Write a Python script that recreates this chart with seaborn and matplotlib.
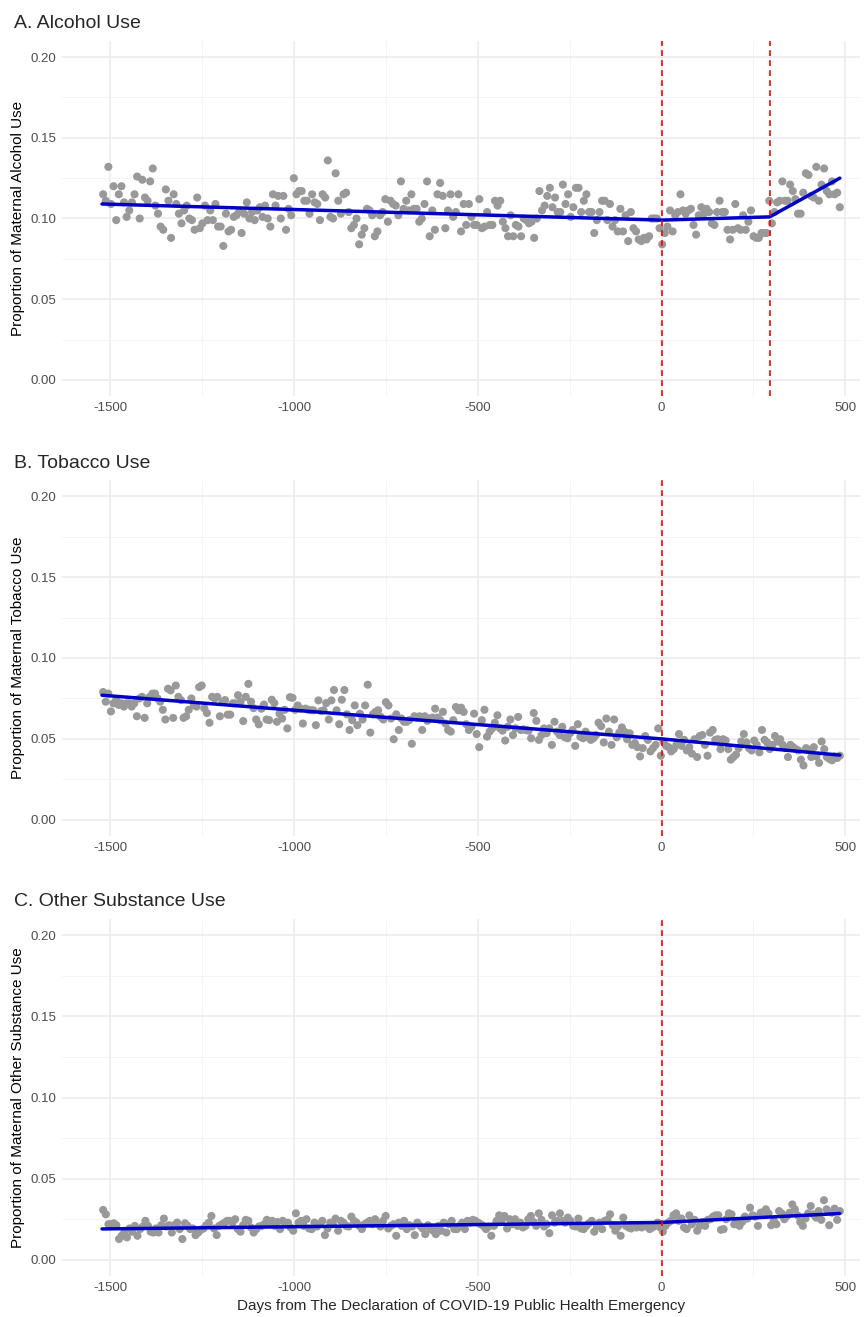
import matplotlib
matplotlib.use("Agg")
import matplotlib.pyplot as plt
import numpy as np
import pandas as pd
import seaborn as sns
from matplotlib.ticker import MultipleLocator

# Weekly proportions, first week about day -1520, last about day 485
alcohol = [
    0.115, 0.111, 0.132, 0.109, 0.120, 0.099, 0.115, 0.120, 0.110, 0.101, 0.105, 0.110, 0.115, 0.126, 0.100,
    0.124, 0.113, 0.111, 0.123, 0.131, 0.108, 0.103, 0.095, 0.093, 0.118, 0.111, 0.088, 0.115, 0.109, 0.103,
    0.097, 0.105, 0.108, 0.100, 0.099, 0.093, 0.113, 0.094, 0.097, 0.108, 0.099, 0.105, 0.099, 0.109, 0.095,
    0.095, 0.083, 0.103, 0.092, 0.093, 0.101, 0.102, 0.104, 0.091, 0.103, 0.110, 0.100, 0.104, 0.099, 0.105,
    0.107,
    0.101, 0.108, 0.100, 0.095, 0.115, 0.108, 0.114, 0.100, 0.114, 0.093, 0.106, 0.102, 0.125, 0.115, 0.117,
    0.117, 0.111, 0.111, 0.103, 0.115, 0.110, 0.109, 0.099, 0.115, 0.113, 0.136, 0.101, 0.100, 0.128, 0.111,
    0.103, 0.115, 0.116, 0.104, 0.094, 0.096, 0.100, 0.084, 0.090, 0.094, 0.106, 0.105, 0.102, 0.089, 0.092,
    0.102, 0.104, 0.112, 0.098, 0.111, 0.109, 0.108, 0.102, 0.123, 0.106, 0.111, 0.105, 0.115, 0.106, 0.106,
    0.098, 0.100, 0.109, 0.123, 0.089, 0.105, 0.093, 0.115, 0.122, 0.114, 0.094, 0.105, 0.115, 0.101,
    0.104, 0.115, 0.092, 0.109, 0.096, 0.109, 0.101, 0.096, 0.096, 0.112, 0.094, 0.095, 0.104, 0.096, 0.096,
    0.111, 0.108, 0.111, 0.098, 0.094, 0.089, 0.102, 0.089, 0.096, 0.095, 0.089, 0.100, 0.099, 0.097, 0.098,
    0.088, 0.100, 0.117, 0.105, 0.108, 0.114, 0.119, 0.107, 0.113, 0.104, 0.104, 0.121, 0.109, 0.115, 0.101,
    0.107, 0.119, 0.119, 0.104, 0.111, 0.115, 0.104, 0.104, 0.091, 0.099, 0.104, 0.111, 0.111, 0.099, 0.109,
    0.095, 0.099, 0.092, 0.106, 0.092, 0.102, 0.086, 0.104, 0.094, 0.092, 0.087, 0.086, 0.088, 0.087,
    0.089, 0.100, 0.100, 0.100, 0.094, 0.084, 0.091, 0.095, 0.105, 0.092, 0.102, 0.104, 0.115, 0.105, 0.103,
    0.105, 0.106, 0.096, 0.090, 0.102, 0.107, 0.103, 0.106, 0.104, 0.097, 0.096, 0.104, 0.111, 0.104, 0.104,
    0.093, 0.087, 0.093, 0.109, 0.094, 0.093, 0.102, 0.093, 0.098, 0.105, 0.089, 0.088, 0.088, 0.091, 0.091,
    0.091, 0.111, 0.097, 0.104, 0.110, 0.111, 0.123, 0.111, 0.111, 0.121, 0.117, 0.112, 0.103, 0.103, 0.116,
    0.128, 0.127, 0.114, 0.113, 0.132, 0.111, 0.121, 0.131, 0.117, 0.115, 0.123, 0.115, 0.116, 0.107,
]

tobacco = [
    0.079, 0.073, 0.078, 0.067, 0.072, 0.074, 0.071, 0.072, 0.070, 0.072, 0.072, 0.070, 0.072, 0.064, 0.075,
    0.076, 0.063, 0.072, 0.076, 0.078, 0.078, 0.075, 0.073, 0.068, 0.062, 0.081, 0.080, 0.063, 0.083, 0.076,
    0.074, 0.063, 0.064, 0.068, 0.075, 0.071, 0.070, 0.082, 0.083, 0.069, 0.066, 0.060, 0.076, 0.075, 0.076,
    0.064, 0.073, 0.074, 0.065, 0.065, 0.072, 0.072, 0.077, 0.073, 0.061, 0.076, 0.084, 0.073, 0.069, 0.062,
    0.059,
    0.0687, 0.0713, 0.062, 0.0616, 0.0742, 0.0721, 0.0606, 0.0656, 0.0626, 0.068, 0.0565, 0.0758, 0.0754, 0.068,
    0.0707, 0.0687, 0.0595, 0.0687, 0.068, 0.0677, 0.0677, 0.0585, 0.0738, 0.0672, 0.0677, 0.0721, 0.062, 0.0738,
    0.0802, 0.0677, 0.0591, 0.0742, 0.0802, 0.0652, 0.0555, 0.0616, 0.0707, 0.0585, 0.0656, 0.062, 0.0707, 0.0835,
    0.0539, 0.0652, 0.0667, 0.0677, 0.0636, 0.062, 0.0727, 0.0707, 0.0626, 0.0498, 0.0652, 0.0555, 0.0626, 0.0606,
    0.0606, 0.0616, 0.047, 0.064, 0.0632, 0.064, 0.0555, 0.064, 0.0612, 0.0626, 0.0632, 0.0687, 0.0632, 0.0616,
    0.0667, 0.0595, 0.0555,
    0.0545, 0.0616, 0.0697, 0.0677, 0.0693, 0.0667, 0.0591, 0.0555, 0.0575, 0.0656, 0.053, 0.0449, 0.0616, 0.068,
    0.0514, 0.0545, 0.0565, 0.06, 0.0646, 0.0565, 0.0551, 0.049, 0.0575, 0.062, 0.0524, 0.0565, 0.0636, 0.0555,
    0.0559, 0.0555, 0.0551, 0.0504, 0.066, 0.0612, 0.0494, 0.0524, 0.0565, 0.0535, 0.0565, 0.0463, 0.0606, 0.0545,
    0.0524, 0.0575, 0.051, 0.0504, 0.0535, 0.0555, 0.0457, 0.0591, 0.0514, 0.0504, 0.0545, 0.051, 0.0494, 0.0504,
    0.0524, 0.06, 0.0579, 0.0478, 0.0626, 0.0545, 0.0463, 0.062, 0.051, 0.0539, 0.0571, 0.0545, 0.0498, 0.0535,
    0.0463, 0.0474, 0.0449, 0.0392,
    0.0443, 0.0518, 0.0494, 0.0423, 0.0443, 0.0463, 0.0565, 0.0396, 0.0484, 0.0457, 0.0449, 0.0423, 0.0437, 0.0463,
    0.053, 0.0457, 0.0494, 0.0429, 0.0449, 0.0409, 0.0498, 0.0388, 0.0518, 0.0524, 0.0463, 0.0396, 0.0539, 0.0555,
    0.0494, 0.0498, 0.0437, 0.0498, 0.049, 0.0437, 0.0372, 0.0388, 0.0403, 0.0443, 0.0484, 0.053, 0.0478, 0.0443,
    0.0429, 0.049, 0.0463, 0.0417, 0.0555, 0.0494, 0.0478, 0.0437, 0.0463, 0.0518, 0.0484, 0.0498, 0.0463, 0.0443,
    0.0388, 0.0463, 0.0449, 0.0437, 0.0429, 0.0372, 0.0336, 0.0443, 0.0433, 0.0388, 0.0449, 0.0392, 0.0352, 0.0484,
    0.0437, 0.0388, 0.0376, 0.0368, 0.0392, 0.0382, 0.0396,
]

other = [
    0.0307, 0.028, 0.0219, 0.0219, 0.0225, 0.0213, 0.0128, 0.0148, 0.0168, 0.0138, 0.0193, 0.0173, 0.0209, 0.0148,
    0.0189, 0.0205, 0.024, 0.0209, 0.0173, 0.0168, 0.0193, 0.0168, 0.0213, 0.0254, 0.0205, 0.0213, 0.0168, 0.0213,
    0.0229, 0.0189, 0.0128, 0.0225, 0.0209, 0.0189, 0.0193, 0.0152, 0.0168, 0.0185, 0.0193, 0.0213, 0.0229, 0.027,
    0.0193, 0.0152, 0.0209, 0.0219, 0.0229, 0.024, 0.024, 0.0229, 0.025, 0.0189, 0.0173, 0.0213, 0.0246, 0.024,
    0.0199, 0.0168, 0.0189, 0.0205, 0.0209,
    0.0219, 0.0246, 0.0229, 0.024, 0.0209, 0.0233, 0.0189, 0.024, 0.0219, 0.0229, 0.0199, 0.0179, 0.0286, 0.0229,
    0.024, 0.0209, 0.025, 0.0193, 0.0189, 0.0229, 0.0205, 0.0219, 0.024, 0.0152, 0.0193, 0.0229, 0.0219, 0.0254,
    0.0179, 0.024, 0.0229, 0.0209, 0.0205, 0.0266, 0.024, 0.0229, 0.0209, 0.0189, 0.0219, 0.0229, 0.024, 0.0219,
    0.025, 0.0225, 0.0205, 0.024, 0.027, 0.0193, 0.0209, 0.0219, 0.0148, 0.0229, 0.0209, 0.024, 0.0189, 0.0213,
    0.0205, 0.0152, 0.0229, 0.0209, 0.0193, 0.0158, 0.0213, 0.0189, 0.0179, 0.0158, 0.0209, 0.0179, 0.0229, 0.0168,
    0.0219, 0.024, 0.0189, 0.0189, 0.0209,
    0.0229, 0.0189, 0.024, 0.0229, 0.0246, 0.024, 0.0229, 0.0219, 0.0209, 0.0189, 0.0205, 0.0148, 0.0209, 0.024,
    0.0274, 0.0246, 0.027, 0.0193, 0.025, 0.0219, 0.025, 0.0209, 0.0229, 0.0199, 0.0209, 0.025, 0.027, 0.0233,
    0.0209, 0.0286, 0.0246, 0.0205, 0.0219, 0.0164, 0.0274, 0.0229, 0.024, 0.0286, 0.024, 0.0229, 0.026, 0.024,
    0.0209, 0.0205, 0.0254, 0.0193, 0.0189, 0.0209, 0.0225, 0.024, 0.0173, 0.0209, 0.0229, 0.0189, 0.024, 0.0246,
    0.028, 0.0213, 0.0179, 0.0205, 0.0148, 0.026, 0.0209, 0.0199, 0.0193, 0.0205, 0.0199, 0.0213, 0.0199, 0.0209,
    0.0205, 0.0189,
    0.0199, 0.0209, 0.0229, 0.0199, 0.0173, 0.0209, 0.0229, 0.024, 0.0274, 0.0286, 0.024, 0.0254, 0.0199, 0.0189,
    0.0274, 0.0219, 0.0246, 0.0179, 0.0209, 0.0233, 0.0209, 0.0246, 0.025, 0.0266, 0.0274, 0.0274, 0.0185, 0.0189,
    0.025, 0.0286, 0.028, 0.0219, 0.024, 0.0209, 0.0233, 0.0266, 0.0254, 0.0321, 0.0274, 0.0266, 0.0209, 0.029,
    0.0294, 0.0311, 0.0286, 0.0213, 0.024, 0.0219, 0.03, 0.0286, 0.025, 0.027, 0.029, 0.0341, 0.0311, 0.0274,
    0.0233, 0.0209, 0.0254, 0.0286, 0.0331, 0.028, 0.026, 0.03, 0.0246, 0.0367, 0.0311, 0.0213, 0.029, 0.0315,
    0.0246, 0.03,
]

# Segmented regression fits (knots)
alc_fit_x = [-1523, 0, 294, 485]
alc_fit_y = [0.109, 0.099, 0.101, 0.125]
tob_fit_x = [-1523, 0, 485]
tob_fit_y = [0.077, 0.050, 0.040]
oth_fit_x = [-1523, 0, 485]
oth_fit_y = [0.019, 0.023, 0.0285]

alc_cuts = [0, 294]
tob_cuts = [0]
oth_cuts = [0]

first_day, last_day = -1520, 485

panels = [
    ("A. Alcohol Use", "Proportion of Maternal Alcohol Use", alcohol, alc_fit_x, alc_fit_y, alc_cuts),
    ("B. Tobacco Use", "Proportion of Maternal Tobacco Use", tobacco, tob_fit_x, tob_fit_y, tob_cuts),
    ("C. Other Substance Use", "Proportion of Maternal Other Substance Use", other, oth_fit_x, oth_fit_y, oth_cuts),
]

sns.set_theme(style="whitegrid")
plt.rcParams["font.family"] = ["Liberation Sans", "DejaVu Sans"]
plt.rcParams["axes.unicode_minus"] = False

fig = plt.figure(figsize=(8.64, 13.17), dpi=100)
W, H = 864, 1317
# (top px, bottom px) of each plot area
rows = [(41, 396), (480, 836), (919, 1276)]
left_px, right_px = 62, 860

for (title, ylab, vals, fx, fy, cuts), (top, bot) in zip(panels, rows):
    ax = fig.add_axes([left_px / W, 1 - bot / H, (right_px - left_px) / W, (bot - top) / H])
    df = pd.DataFrame({"day": np.linspace(first_day, last_day, len(vals)), "prop": vals})
    fit = pd.DataFrame({"day": fx, "prop": fy})

    sns.scatterplot(data=df, x="day", y="prop", ax=ax, color="#999999", s=34,
                    edgecolor="none", zorder=2)
    sns.lineplot(data=fit, x="day", y="prop", ax=ax, color="#0000C8", linewidth=2.5,
                 zorder=3, sort=False)
    for c in cuts:
        ax.axvline(c, color="#FF0000", linestyle=(0, (3.5, 2.5)), linewidth=1.2, zorder=4)

    ax.set_xlim(-1632, 540)
    ax.set_ylim(-0.01, 0.21)
    ax.xaxis.set_major_locator(MultipleLocator(500))
    ax.xaxis.set_minor_locator(MultipleLocator(250))
    ax.yaxis.set_major_locator(MultipleLocator(0.05))
    ax.yaxis.set_minor_locator(MultipleLocator(0.025))
    ax.set_yticks([0, 0.05, 0.10, 0.15, 0.20])
    ax.set_yticklabels(["0.00", "0.05", "0.10", "0.15", "0.20"])
    ax.grid(which="major", color="#EBEBEB", linewidth=1.1)
    ax.grid(which="minor", color="#F2F2F2", linewidth=0.6)
    ax.set_facecolor("white")
    for s in ax.spines.values():
        s.set_visible(False)
    ax.tick_params(which="both", length=0, labelsize=9.5, labelcolor="#4D4D4D", pad=4)
    ax.set_ylabel(ylab, fontsize=11, color="black", labelpad=4)
    ax.set_xlabel("")
    ax.set_title(title, loc="left", fontsize=14, pad=9, x=-0.06)

ax.set_xlabel("Days from The Declaration of COVID-19 Public Health Emergency", fontsize=11, labelpad=4)

fig.savefig("out.png", dpi=100, facecolor="white")
